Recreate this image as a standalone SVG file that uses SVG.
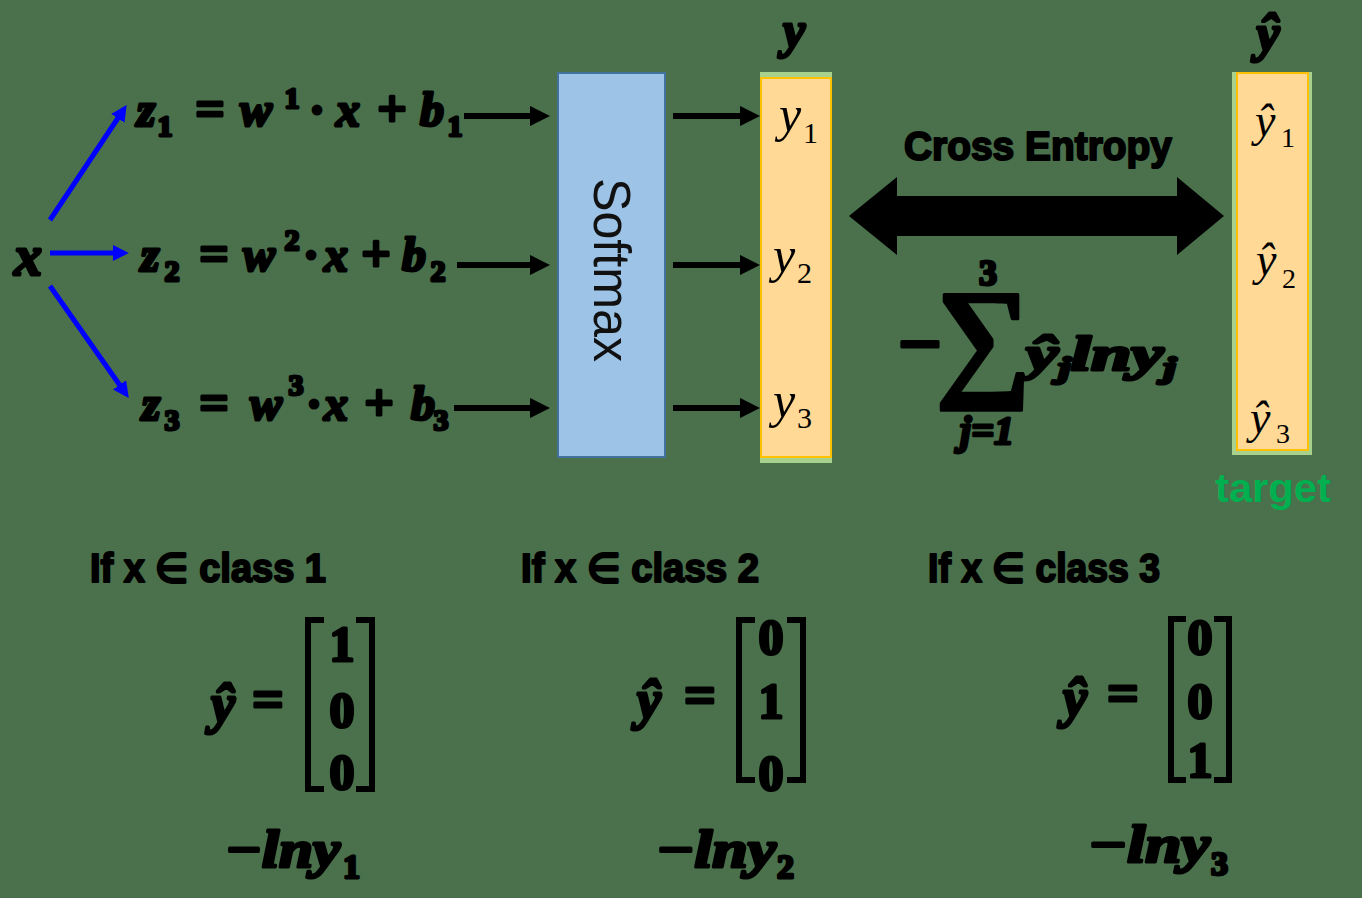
<svg xmlns="http://www.w3.org/2000/svg" width="1362" height="898" viewBox="0 0 1362 898">
<defs>
<style>
.mi{font-family:"Liberation Serif",serif;font-style:italic;font-weight:bold;fill:#000;stroke:#000;stroke-width:3;stroke-linejoin:round}
.mu{font-family:"Liberation Serif",serif;font-weight:bold;fill:#000;stroke:#000;stroke-width:3;stroke-linejoin:round}
.sb{font-family:"Liberation Sans",sans-serif;font-weight:bold;fill:#000;stroke:#000;stroke-width:2;stroke-linejoin:round}
.ti{font-family:"Liberation Serif",serif;font-style:italic;fill:#000}
.tu{font-family:"Liberation Serif",serif;fill:#000}
.c{text-anchor:middle}
.blue{stroke:#0000ff;stroke-width:5;fill:none;marker-end:url(#ab)}
.blk{stroke:#000;stroke-width:6;fill:none;marker-end:url(#ak)}
.brk{stroke:#000;stroke-width:6;fill:none}
</style>
<marker id="ab" viewBox="0 0 10 10" refX="7" refY="5" markerWidth="3.2" markerHeight="3.2" orient="auto" markerUnits="strokeWidth"><path d="M0,0 L10,5 L0,10 z" fill="#0000ff"/></marker>
<marker id="ak" viewBox="0 0 10 10" refX="7" refY="5" markerWidth="3.4" markerHeight="3.4" orient="auto" markerUnits="strokeWidth"><path d="M0,0 L10,5 L0,10 z" fill="#000"/></marker>
</defs>
<rect width="1362" height="898" fill="#4a704c"/>

<g id="connectors">
<line class="blue" x1="50" y1="220" x2="124" y2="109"/>
<line class="blue" x1="50" y1="253" x2="124" y2="253"/>
<line class="blue" x1="50" y1="286" x2="126" y2="394"/>
<line class="blk" x1="464" y1="116" x2="544" y2="116"/>
<line class="blk" x1="457" y1="265" x2="544" y2="265"/>
<line class="blk" x1="454" y1="408" x2="544" y2="408"/>
<line class="blk" x1="673" y1="116" x2="754" y2="116"/>
<line class="blk" x1="673" y1="265" x2="754" y2="265"/>
<line class="blk" x1="673" y1="408" x2="754" y2="408"/>
<polygon points="849,216 897,177 897,196 1177,196 1177,177 1224,216 1177,255 1177,236 897,236 897,255" fill="#000"/>
</g>

<g id="node-x">
<text class="mi c" x="28" y="275" font-size="56">x</text>
</g>

<g id="node-z1">
<text class="mi c" x="146" y="126" font-size="48">z</text>
<text class="mu c" x="165" y="136" font-size="30">1</text>
<text class="mu c" x="210" y="126" font-size="52">=</text>
<text class="mi c" x="256" y="126" font-size="48">w</text>
<text class="mu c" x="292" y="108" font-size="30">1</text>
<text class="mu c" x="317" y="126" font-size="48">·</text>
<text class="mi c" x="348" y="126" font-size="48">x</text>
<text class="mu c" x="392" y="126" font-size="52">+</text>
<text class="mi c" x="432" y="126" font-size="48">b</text>
<text class="mu c" x="455" y="136" font-size="30">1</text>
</g>

<g id="node-z2">
<text class="mi c" x="150" y="271" font-size="48">z</text>
<text class="mu c" x="172" y="281" font-size="30">2</text>
<text class="mu c" x="214" y="271" font-size="52">=</text>
<text class="mi c" x="259" y="271" font-size="48">w</text>
<text class="mu c" x="292" y="250" font-size="30">2</text>
<text class="mu c" x="311" y="271" font-size="48">·</text>
<text class="mi c" x="336" y="271" font-size="48">x</text>
<text class="mu c" x="376" y="271" font-size="52">+</text>
<text class="mi c" x="414" y="271" font-size="48">b</text>
<text class="mu c" x="438" y="281" font-size="30">2</text>
</g>

<g id="node-z3">
<text class="mi c" x="151" y="420" font-size="48">z</text>
<text class="mu c" x="172" y="430" font-size="30">3</text>
<text class="mu c" x="214" y="420" font-size="52">=</text>
<text class="mi c" x="266" y="420" font-size="48">w</text>
<text class="mu c" x="296" y="395" font-size="30">3</text>
<text class="mu c" x="314" y="420" font-size="48">·</text>
<text class="mi c" x="336" y="420" font-size="48">x</text>
<text class="mu c" x="379" y="420" font-size="52">+</text>
<text class="mi c" x="423" y="420" font-size="48">b</text>
<text class="mu c" x="441" y="430" font-size="30">3</text>
</g>

<g id="node-softmax">
<rect x="558" y="73" width="107" height="384" fill="#9dc3e6" stroke="#41719c" stroke-width="2"/>
<text transform="translate(594,270) rotate(90)" text-anchor="middle" font-family="Liberation Sans, sans-serif" font-size="52" textLength="184" lengthAdjust="spacingAndGlyphs" fill="#111">Softmax</text>
</g>

<g id="node-y">
<text class="mi c" x="794" y="47" font-size="50">y</text>
<rect x="760" y="72" width="72" height="391" fill="#a9d18e"/>
<rect x="761" y="78" width="70" height="379" fill="#ffd995" stroke="#ffc000" stroke-width="2"/>
<text class="ti" x="779" y="131" font-size="50">y</text>
<text class="tu" x="803" y="143" font-size="30">1</text>
<text class="ti" x="773" y="272" font-size="50">y</text>
<text class="tu" x="797" y="283" font-size="30">2</text>
<text class="ti" x="773" y="417" font-size="50">y</text>
<text class="tu" x="797" y="428" font-size="30">3</text>
</g>

<g id="label-ce">
<text class="sb c" x="1038" y="160" font-size="40" textLength="268" lengthAdjust="spacingAndGlyphs">Cross Entropy</text>
</g>

<g id="formula-ce">
<text class="mu c" x="920" y="370" font-size="78">−</text>
<text class="mu c" x="983" y="382" font-size="134">∑</text>
<text class="mu c" x="988" y="285" font-size="36">3</text>
<text class="mi c" x="987" y="444" font-size="40">j=1</text>
<text class="mi" x="1026" y="370" font-size="48" textLength="150" lengthAdjust="spacingAndGlyphs">ŷ<tspan font-size="30" dy="8">j</tspan><tspan dy="-8">lny</tspan><tspan font-size="30" dy="8">j</tspan></text>
</g>

<g id="node-yhat">
<text class="mi c" x="1268" y="51" font-size="52">ŷ</text>
<rect x="1232" y="72" width="80" height="383" fill="#a9d18e"/>
<rect x="1237" y="73" width="71" height="377" fill="#ffd995" stroke="#ffc000" stroke-width="2"/>
<text class="ti" x="1255" y="136" font-size="46">ŷ</text>
<text class="tu" x="1281" y="147" font-size="28">1</text>
<text class="ti" x="1256" y="275" font-size="46">ŷ</text>
<text class="tu" x="1282" y="288" font-size="28">2</text>
<text class="ti" x="1250" y="433" font-size="46">ŷ</text>
<text class="tu" x="1276" y="443" font-size="28">3</text>
<text x="1273" y="502" text-anchor="middle" font-family="Liberation Sans, sans-serif" font-weight="bold" font-size="40" textLength="116" lengthAdjust="spacingAndGlyphs" fill="#00b050">target</text>
</g>

<g id="class1">
<text class="sb" x="90" y="582" font-size="40" textLength="236" lengthAdjust="spacingAndGlyphs">If x ∈ class 1</text>
<text class="mi c" x="223" y="722" font-size="54">ŷ</text>
<text class="mu c" x="268" y="718" font-size="56">=</text>
<path class="brk" d="M324,620 H308 V789 H324 M356,620 H372 V789 H356"/>
<text class="mu c" x="342" y="661" font-size="50">1</text>
<text class="mu c" x="342" y="727" font-size="50">0</text>
<text class="mu c" x="342" y="789" font-size="50">0</text>
<text class="mi" x="225" y="867" font-size="52" textLength="115" lengthAdjust="spacingAndGlyphs">−lny</text>
<text class="mu" x="343" y="878" font-size="34">1</text>
</g>

<g id="class2">
<text class="sb" x="521" y="582" font-size="40" textLength="238" lengthAdjust="spacingAndGlyphs">If x ∈ class 2</text>
<text class="mi c" x="649" y="718" font-size="54">ŷ</text>
<text class="mu c" x="700" y="714" font-size="56">=</text>
<path class="brk" d="M755,620 H739 V780 H755 M787,620 H803 V780 H787"/>
<text class="mu c" x="771" y="654" font-size="50">0</text>
<text class="mu c" x="771" y="718" font-size="50">1</text>
<text class="mu c" x="771" y="790" font-size="50">0</text>
<text class="mi" x="656" y="867" font-size="52" textLength="120" lengthAdjust="spacingAndGlyphs">−lny</text>
<text class="mu" x="777" y="878" font-size="34">2</text>
</g>

<g id="class3">
<text class="sb" x="928" y="582" font-size="40" textLength="232" lengthAdjust="spacingAndGlyphs">If x ∈ class 3</text>
<text class="mi c" x="1075" y="716" font-size="54">ŷ</text>
<text class="mu c" x="1123" y="712" font-size="56">=</text>
<path class="brk" d="M1186,619 H1171 V780 H1186 M1214,619 H1229 V780 H1214"/>
<text class="mu c" x="1200" y="654" font-size="50">0</text>
<text class="mu c" x="1200" y="718" font-size="50">0</text>
<text class="mu c" x="1200" y="777" font-size="50">1</text>
<text class="mi" x="1088" y="862" font-size="52" textLength="122" lengthAdjust="spacingAndGlyphs">−lny</text>
<text class="mu" x="1211" y="875" font-size="34">3</text>
</g>
</svg>
